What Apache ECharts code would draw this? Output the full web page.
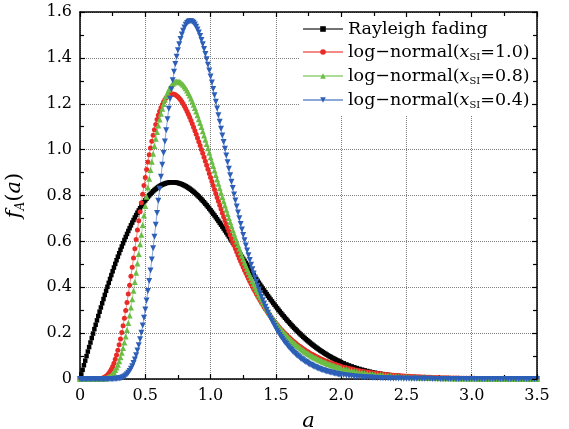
<!DOCTYPE html>
<html>
<head>
<meta charset="utf-8">
<script src="https://cdn.jsdelivr.net/npm/echarts@6/dist/echarts.min.js"></script>
<style>
  html, body { margin: 0; padding: 0; background: #fff; }
  #chart { width: 569px; height: 429px; }
</style>
</head>
<body>
<div id="chart"></div>
<script>
// markers are sampled every 0.01 up to a = 2.0, then every 0.02 up to 3.5
const FINE_STEP = 0.01;
const FINE_END = 2.0;
const TAIL_STEP = 0.02;

const rayleigh = [
  0, 0.0200, 0.0400, 0.0600, 0.0799, 0.0998, 0.1196, 0.1393, 0.1590, 0.1785,
  0.1980, 0.2174, 0.2366, 0.2556, 0.2746, 0.2933, 0.3119, 0.3303, 0.3485, 0.3665,
  0.3843, 0.4019, 0.4192, 0.4363, 0.4531, 0.4697, 0.4860, 0.5020, 0.5178, 0.5332,
  0.5483, 0.5632, 0.5777, 0.5919, 0.6057, 0.6193, 0.6325, 0.6453, 0.6578, 0.6699,
  0.6817, 0.6931, 0.7042, 0.7148, 0.7251, 0.7350, 0.7446, 0.7537, 0.7625, 0.7709,
  0.7788, 0.7864, 0.7936, 0.8004, 0.8068, 0.8129, 0.8185, 0.8238, 0.8286, 0.8331,
  0.8372, 0.8410, 0.8443, 0.8472, 0.8498, 0.8520, 0.8539, 0.8553, 0.8565, 0.8573,
  0.8577, 0.8577, 0.8575, 0.8569, 0.8559, 0.8547, 0.8531, 0.8512, 0.8489, 0.8464,
  0.8437, 0.8406, 0.8372, 0.8335, 0.8296, 0.8254, 0.8210, 0.8162, 0.8113, 0.8062,
  0.8008, 0.7952, 0.7893, 0.7832, 0.7770, 0.7706, 0.7640, 0.7572, 0.7503, 0.7431,
  0.7358, 0.7284, 0.7207, 0.7132, 0.7051, 0.6972, 0.6892, 0.6809, 0.6728, 0.6645,
  0.6561, 0.6476, 0.6389, 0.6303, 0.6216, 0.6130, 0.6041, 0.5953, 0.5864, 0.5774,
  0.5686, 0.5597, 0.5508, 0.5419, 0.5329, 0.5240, 0.5151, 0.5062, 0.4974, 0.4887,
  0.4797, 0.4711, 0.4622, 0.4535, 0.4449, 0.4363, 0.4278, 0.4192, 0.4109, 0.4025,
  0.3944, 0.3861, 0.3781, 0.3701, 0.3621, 0.3541, 0.3465, 0.3387, 0.3312, 0.3236,
  0.3162, 0.3089, 0.3017, 0.2944, 0.2875, 0.2806, 0.2737, 0.2669, 0.2604, 0.2538,
  0.2474, 0.2412, 0.2349, 0.2288, 0.2228, 0.2168, 0.2111, 0.2054, 0.1999, 0.1944,
  0.1891, 0.1837, 0.1787, 0.1733, 0.1686, 0.1638, 0.1590, 0.1543, 0.1498, 0.1453,
  0.1411, 0.1368, 0.1326, 0.1285, 0.1246, 0.1206, 0.1171, 0.1133, 0.1098, 0.1062,
  0.1029, 0.0993, 0.0963, 0.0930, 0.0901, 0.0870, 0.0842, 0.0812, 0.0786, 0.0760,
  0.0733,
  // tail, a = 2.02 .. 3.50
  0.0683, 0.0636, 0.0592, 0.0551, 0.0511, 0.0474, 0.0439, 0.0407, 0.0376,
  0.0348, 0.0321, 0.0296, 0.0273, 0.0252, 0.0232, 0.0213, 0.0196, 0.0180, 0.0165,
  0.0151, 0.0139, 0.0127, 0.0116, 0.0106, 0.0097, 0.0088, 0.0080, 0.0073, 0.0066,
  0.0060, 0.0055, 0.0050, 0.0045, 0.0041, 0.0037, 0.0033, 0.0030, 0.0027, 0.0024,
  0.0022, 0.0020, 0.0018, 0.0016, 0.0014, 0.0013, 0.0011, 0.0010, 0.0009, 0.0008,
  0.0007, 0.0006, 0.0005, 0.0005, 0.0004, 0.0004, 0.0003, 0.0003, 0.0003, 0.0002,
  0.0002, 0.0002, 0.0001, 0.0001, 0.0001, 0.0001, 0.0001, 0.0001, 0, 0,
  0, 0, 0, 0, 0, 0
];

const logNormal10 = [
  0, 0, 0, 0, 0, 0, 0, 0, 0, 0,
  0, 0, 0.0001, 0.0003, 0.0006, 0.0012, 0.0021, 0.0035, 0.0056, 0.0085,
  0.0125, 0.0177, 0.0243, 0.0326, 0.0428, 0.0549, 0.0692, 0.0857, 0.1045, 0.1256,
  0.1489, 0.1747, 0.2026, 0.2326, 0.2646, 0.2984, 0.3336, 0.3704, 0.4085, 0.4475,
  0.4872, 0.5275, 0.5680, 0.6086, 0.6492, 0.6894, 0.7292, 0.7681, 0.8059, 0.8432,
  0.8789, 0.9134, 0.9464, 0.9778, 1.0075, 1.0360, 1.0623, 1.0870, 1.1098, 1.1308,
  1.1498, 1.1670, 1.1824, 1.1960, 1.2077, 1.2176, 1.2259, 1.2324, 1.2373, 1.2406,
  1.2424, 1.2428, 1.2417, 1.2392, 1.2354, 1.2304, 1.2243, 1.2170, 1.2088, 1.1996,
  1.1894, 1.1784, 1.1666, 1.1541, 1.1409, 1.1271, 1.1127, 1.0979, 1.0826, 1.0668,
  1.0508, 1.0343, 1.0177, 1.0008, 0.9837, 0.9664, 0.9490, 0.9315, 0.9140, 0.8964,
  0.8788, 0.8612, 0.8437, 0.8262, 0.8089, 0.7916, 0.7745, 0.7575, 0.7406, 0.7240,
  0.7075, 0.6912, 0.6751, 0.6592, 0.6436, 0.6280, 0.6129, 0.5979, 0.5832, 0.5686,
  0.5545, 0.5405, 0.5267, 0.5133, 0.5001, 0.4872, 0.4745, 0.4621, 0.4498, 0.4380,
  0.4263, 0.4150, 0.4038, 0.3929, 0.3822, 0.3718, 0.3617, 0.3518, 0.3421, 0.3326,
  0.3234, 0.3144, 0.3056, 0.2971, 0.2888, 0.2806, 0.2727, 0.2650, 0.2575, 0.2501,
  0.2430, 0.2361, 0.2293, 0.2227, 0.2163, 0.2101, 0.2041, 0.1982, 0.1925, 0.1869,
  0.1815, 0.1762, 0.1711, 0.1661, 0.1613, 0.1565, 0.1520, 0.1475, 0.1432, 0.1390,
  0.1350, 0.1310, 0.1271, 0.1234, 0.1198, 0.1162, 0.1128, 0.1095, 0.1063, 0.1031,
  0.1001, 0.0971, 0.0943, 0.0915, 0.0888, 0.0861, 0.0836, 0.0811, 0.0787, 0.0764,
  0.0741, 0.0720, 0.0698, 0.0678, 0.0658, 0.0638, 0.0619, 0.0601, 0.0583, 0.0566,
  0.0549,
  // tail, a = 2.02 .. 3.50
  0.0517, 0.0487, 0.0459, 0.0432, 0.0407, 0.0383, 0.0361, 0.0340, 0.0321,
  0.0302, 0.0285, 0.0268, 0.0252, 0.0238, 0.0224, 0.0211, 0.0199, 0.0188, 0.0177,
  0.0167, 0.0158, 0.0149, 0.0140, 0.0132, 0.0125, 0.0118, 0.0111, 0.0105, 0.0099,
  0.0093, 0.0088, 0.0083, 0.0078, 0.0074, 0.0070, 0.0066, 0.0062, 0.0059, 0.0056,
  0.0053, 0.0050, 0.0047, 0.0044, 0.0042, 0.0040, 0.0038, 0.0036, 0.0034, 0.0032,
  0.0030, 0.0028, 0.0027, 0.0025, 0.0024, 0.0023, 0.0022, 0.0020, 0.0019, 0.0018,
  0.0017, 0.0016, 0.0016, 0.0015, 0.0014, 0.0013, 0.0013, 0.0012, 0.0011, 0.0011,
  0.0010, 0.0010, 0.0009, 0.0009, 0.0008, 0.0008
];

const logNormal08 = [
  0, 0, 0, 0, 0, 0, 0, 0, 0, 0,
  0, 0, 0, 0, 0.0001, 0.0002, 0.0004, 0.0008, 0.0013, 0.0022,
  0.0036, 0.0055, 0.0082, 0.0117, 0.0164, 0.0224, 0.0298, 0.0388, 0.0497, 0.0625,
  0.0774, 0.0945, 0.1139, 0.1355, 0.1594, 0.1856, 0.2138, 0.2443, 0.2768, 0.3112,
  0.3472, 0.3846, 0.4234, 0.4632, 0.5039, 0.5454, 0.5872, 0.6292, 0.6709, 0.7129,
  0.7542, 0.7948, 0.8346, 0.8733, 0.9109, 0.9474, 0.9822, 1.0156, 1.0474, 1.0772,
  1.1054, 1.1315, 1.1560, 1.1783, 1.1987, 1.2171, 1.2336, 1.2480, 1.2605, 1.2712,
  1.2799, 1.2869, 1.2920, 1.2954, 1.2971, 1.2971, 1.2957, 1.2926, 1.2882, 1.2825,
  1.2755, 1.2672, 1.2577, 1.2473, 1.2358, 1.2233, 1.2101, 1.1960, 1.1812, 1.1657,
  1.1496, 1.1329, 1.1158, 1.0982, 1.0802, 1.0619, 1.0433, 1.0246, 1.0055, 0.9864,
  0.9670, 0.9476, 0.9282, 0.9088, 0.8894, 0.8701, 0.8508, 0.8316, 0.8125, 0.7936,
  0.7749, 0.7563, 0.7380, 0.7198, 0.7019, 0.6842, 0.6668, 0.6496, 0.6327, 0.6160,
  0.5998, 0.5837, 0.5679, 0.5525, 0.5374, 0.5225, 0.5079, 0.4937, 0.4797, 0.4662,
  0.4527, 0.4398, 0.4270, 0.4145, 0.4024, 0.3906, 0.3790, 0.3678, 0.3568, 0.3461,
  0.3356, 0.3255, 0.3156, 0.3060, 0.2967, 0.2875, 0.2787, 0.2701, 0.2618, 0.2536,
  0.2456, 0.2380, 0.2305, 0.2233, 0.2162, 0.2094, 0.2028, 0.1963, 0.1901, 0.1841,
  0.1782, 0.1725, 0.1670, 0.1616, 0.1564, 0.1513, 0.1465, 0.1417, 0.1371, 0.1327,
  0.1284, 0.1242, 0.1202, 0.1163, 0.1125, 0.1088, 0.1053, 0.1018, 0.0985, 0.0953,
  0.0921, 0.0891, 0.0862, 0.0834, 0.0806, 0.0780, 0.0754, 0.0729, 0.0705, 0.0682,
  0.0659, 0.0638, 0.0617, 0.0596, 0.0577, 0.0558, 0.0539, 0.0522, 0.0504, 0.0488,
  0.0472,
  // tail, a = 2.02 .. 3.50
  0.0441, 0.0412, 0.0385, 0.0360, 0.0337, 0.0315, 0.0295, 0.0276, 0.0258,
  0.0241, 0.0225, 0.0211, 0.0197, 0.0184, 0.0172, 0.0161, 0.0151, 0.0141, 0.0132,
  0.0124, 0.0116, 0.0108, 0.0101, 0.0095, 0.0089, 0.0083, 0.0078, 0.0073, 0.0068,
  0.0064, 0.0060, 0.0056, 0.0052, 0.0049, 0.0046, 0.0043, 0.0040, 0.0037, 0.0035,
  0.0033, 0.0031, 0.0029, 0.0027, 0.0025, 0.0024, 0.0022, 0.0021, 0.0020, 0.0019,
  0.0018, 0.0017, 0.0016, 0.0015, 0.0014, 0.0013, 0.0012, 0.0011, 0.0011, 0.0010,
  0.0009, 0.0009, 0.0008, 0.0008, 0.0007, 0.0007, 0.0006, 0.0006, 0.0006, 0.0005,
  0.0005, 0.0005, 0.0004, 0.0004, 0.0004, 0.0004
];

const logNormal04 = [
  0, 0, 0, 0, 0, 0, 0, 0, 0, 0,
  0, 0, 0, 0, 0, 0, 0, 0, 0, 0,
  0, 0, 0, 0.0001, 0.0001, 0.0002, 0.0004, 0.0007, 0.0011, 0.0017,
  0.0027, 0.0039, 0.0057, 0.0081, 0.0113, 0.0154, 0.0206, 0.0270, 0.0350, 0.0446,
  0.0561, 0.0696, 0.0853, 0.1034, 0.1239, 0.1471, 0.1730, 0.2016, 0.2328, 0.2669,
  0.3035, 0.3426, 0.3840, 0.4276, 0.4734, 0.5211, 0.5701, 0.6206, 0.6720, 0.7242,
  0.7768, 0.8295, 0.8822, 0.9343, 0.9854, 1.0358, 1.0850, 1.1323, 1.1780, 1.2218,
  1.2634, 1.3027, 1.3395, 1.3736, 1.4050, 1.4335, 1.4593, 1.4819, 1.5017, 1.5188,
  1.5329, 1.5439, 1.5519, 1.5575, 1.5600, 1.5602, 1.5577, 1.5527, 1.5454, 1.5359,
  1.5242, 1.5106, 1.4951, 1.4779, 1.4590, 1.4387, 1.4170, 1.3940, 1.3699, 1.3449,
  1.3189, 1.2921, 1.2647, 1.2367, 1.2083, 1.1795, 1.1503, 1.1210, 1.0915, 1.0621,
  1.0327, 1.0033, 0.9742, 0.9452, 0.9165, 0.8879, 0.8599, 0.8322, 0.8049, 0.7779,
  0.7518, 0.7259, 0.7004, 0.6758, 0.6516, 0.6279, 0.6048, 0.5823, 0.5603, 0.5392,
  0.5183, 0.4983, 0.4788, 0.4598, 0.4414, 0.4237, 0.4065, 0.3899, 0.3738, 0.3583,
  0.3433, 0.3289, 0.3149, 0.3015, 0.2886, 0.2761, 0.2642, 0.2525, 0.2416, 0.2308,
  0.2206, 0.2108, 0.2014, 0.1922, 0.1836, 0.1752, 0.1673, 0.1596, 0.1523, 0.1453,
  0.1386, 0.1322, 0.1260, 0.1201, 0.1145, 0.1091, 0.1040, 0.0991, 0.0943, 0.0899,
  0.0856, 0.0815, 0.0776, 0.0739, 0.0703, 0.0670, 0.0637, 0.0606, 0.0577, 0.0549,
  0.0522, 0.0497, 0.0473, 0.0449, 0.0427, 0.0406, 0.0386, 0.0368, 0.0349, 0.0332,
  0.0316, 0.0300, 0.0285, 0.0271, 0.0258, 0.0245, 0.0233, 0.0221, 0.0210, 0.0200,
  0.0190,
  // tail, a = 2.02 .. 3.50
  0.0172, 0.0155, 0.0140, 0.0126, 0.0114, 0.0103, 0.0093, 0.0084, 0.0075,
  0.0068, 0.0061, 0.0055, 0.0050, 0.0045, 0.0040, 0.0036, 0.0032, 0.0029, 0.0026,
  0.0024, 0.0021, 0.0019, 0.0017, 0.0016, 0.0014, 0.0013, 0.0012, 0.0011, 0.0010,
  0.0009, 0.0008, 0.0007, 0.0006, 0.0006, 0.0005, 0.0005, 0.0004, 0.0004, 0.0003,
  0.0003, 0.0003, 0.0002, 0.0002, 0.0002, 0.0002, 0.0001, 0.0001, 0.0001, 0.0001,
  0.0001, 0, 0, 0, 0, 0, 0, 0, 0, 0,
  0, 0, 0, 0, 0, 0, 0, 0, 0, 0,
  0, 0, 0, 0, 0, 0
];

const seriesNames = ["Rayleigh fading", "log-normal 1.0", "log-normal 0.8", "log-normal 0.4"];
const scintIndex = [null, "1.0", "0.8", "0.4"];

const FONT = "DejaVu Serif";

const legendLabel = (name) => {
  const i = seriesNames.indexOf(name);
  if (i === 0) return "{n|Rayleigh fading}";
  return "{n|log\u2212normal(}{i|x}{s|SI}{n|=" + scintIndex[i] + ")}";
};

// a value of the i-th sample
const aAt = (i) => {
  const nFine = Math.round(FINE_END / FINE_STEP);
  if (i <= nFine) return Number((i * FINE_STEP).toFixed(2));
  return Number((FINE_END + (i - nFine) * TAIL_STEP).toFixed(2));
};

const toPoints = (values) => values.map((v, i) => [aAt(i), v]);

const makeSeries = (name, values, color, symbol, size, rotate) => ({
  name: name,
  type: "line",
  data: toPoints(values),
  symbol: symbol,
  symbolSize: size,
  symbolRotate: rotate,
  showSymbol: true,
  showAllSymbol: true,
  lineStyle: { color: color, width: 1, opacity: 0.55 },
  itemStyle: { color: color, borderWidth: 0 },
  emphasis: { disabled: true },
});

const tickFmt = (v) => (v === 0 ? "0" : v.toFixed(1));

const frameAxis = {
  axisLine: { onZero: false, lineStyle: { color: "#000", width: 1.5 } },
  axisTick: { inside: true, length: 5, lineStyle: { color: "#000", width: 1.2 } },
  minorTick: { show: true, splitNumber: 2, length: 4, lineStyle: { color: "#000", width: 1.2 } },
};

const chart = echarts.init(document.getElementById("chart"));

chart.setOption({
  animation: false,
  backgroundColor: "#fff",
  grid: { left: 80, right: 32, top: 12, bottom: 50, outerBoundsMode: "none" },
  legend: {
    orient: "vertical",
    left: 300,
    top: 15,
    itemWidth: 40,
    itemHeight: 7,
    itemGap: 5,
    padding: [5, 4, 6, 2],
    backgroundColor: "#fff",
    data: seriesNames,
    formatter: legendLabel,
    textStyle: {
      color: "#000",
      fontFamily: FONT,
      fontSize: 17.5,
      rich: {
        n: { fontFamily: FONT, fontSize: 17.5, color: "#000", lineHeight: 22 },
        i: { fontFamily: FONT, fontSize: 17.5, color: "#000", fontStyle: "italic", lineHeight: 22 },
        s: { fontFamily: FONT, fontSize: 10, color: "#000", padding: [10, 0, 0, 0] },
      },
    },
  },
  xAxis: [
    Object.assign({}, frameAxis, {
      type: "value",
      min: 0,
      max: 3.5,
      interval: 0.5,
      position: "bottom",
      name: "a",
      nameLocation: "middle",
      nameGap: 32,
      nameTextStyle: { fontFamily: FONT, fontSize: 21, fontStyle: "italic", color: "#000" },
      axisLabel: { fontFamily: FONT, fontSize: 16, color: "#000", margin: 9, formatter: tickFmt },
      splitLine: { show: true, lineStyle: { type: "dotted", color: "#808080", width: 1 } },
    }),
    Object.assign({}, frameAxis, {
      type: "value",
      min: 0,
      max: 3.5,
      interval: 0.5,
      position: "top",
      z: 10,
      axisLabel: { show: false },
      splitLine: { show: false },
    }),
  ],
  yAxis: [
    Object.assign({}, frameAxis, {
      type: "value",
      min: 0,
      max: 1.6,
      interval: 0.2,
      position: "left",
      name: "{i|f}{s|A}{n|(}{i|a}{n|)}",
      nameLocation: "middle",
      nameGap: 52,
      nameRotate: 90,
      nameTextStyle: {
        rich: {
          n: { fontFamily: FONT, fontSize: 21, color: "#000", lineHeight: 26 },
          i: { fontFamily: FONT, fontSize: 21, color: "#000", fontStyle: "italic", lineHeight: 26 },
          s: { fontFamily: FONT, fontSize: 12, color: "#000", fontStyle: "italic", padding: [11, 0, 0, 0] },
        },
      },
      axisLabel: { fontFamily: FONT, fontSize: 16, color: "#000", margin: 8, formatter: tickFmt },
      splitLine: { show: true, lineStyle: { type: "dotted", color: "#808080", width: 1 } },
    }),
    Object.assign({}, frameAxis, {
      type: "value",
      min: 0,
      max: 1.6,
      interval: 0.2,
      position: "right",
      z: 10,
      axisLabel: { show: false },
      splitLine: { show: false },
    }),
  ],
  series: [
    makeSeries(seriesNames[0], rayleigh, "#000000", "rect", 4.5, 0),
    makeSeries(seriesNames[1], logNormal10, "#ea2a26", "circle", 5, 0),
    makeSeries(seriesNames[2], logNormal08, "#6cbd45", "triangle", 6, 0),
    makeSeries(seriesNames[3], logNormal04, "#2d5fb8", "triangle", 6, 180),
  ],
});
</script>
</body>
</html>
